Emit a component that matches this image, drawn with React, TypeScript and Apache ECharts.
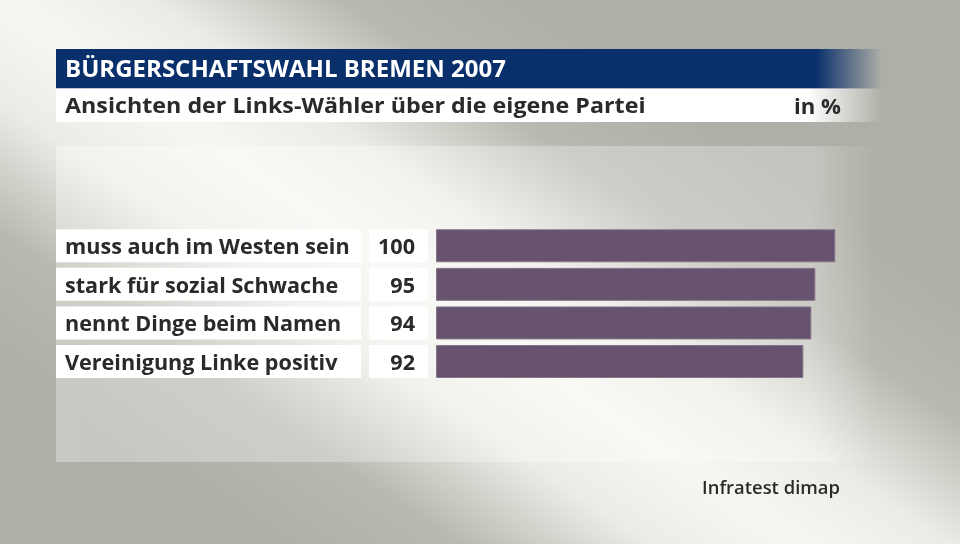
import React, { useEffect, useRef } from "react";
import * as echarts from "echarts";

const titleText = "BÜRGERSCHAFTSWAHL BREMEN 2007";
const subtitleText = "Ansichten der Links-Wähler über die eigene Partei";
const unitText = "in %";
const sourceText = "Infratest dimap";
const categories = [
  "muss auch im Westen sein",
  "stark für sozial Schwache",
  "nennt Dinge beim Namen",
  "Vereinigung Linke positiv",
];
const values = [100, 95, 94, 92];

const FONT = '"Open Sans", "Noto Sans", sans-serif';

function fitScale(text: string, font: string, target: number): number {
  const c = document.createElement("canvas").getContext("2d");
  if (!c) return 1;
  c.font = font;
  const w = c.measureText(text).width;
  return w > 0 ? target / w : 1;
}

export default function App() {
  const ref = useRef<HTMLDivElement>(null);
  useEffect(() => {
    if (!ref.current) return;
    document.body.style.margin = "0";
    const chart = echarts.init(ref.current, null, { renderer: "svg" });

    const titleFont = `bold 23px "Open Sans"`;
    const subFont = `bold 22px "Open Sans"`;
    const srcFont = `600 18px "Open Sans"`;
    const sTitle = fitScale(titleText, titleFont, 441);
    const sSub = fitScale(subtitleText, subFont, 581);
    const sUnit = fitScale(unitText, subFont, 47);
    const sSrc = fitScale(sourceText, srcFont, 138);

    const bg = new echarts.graphic.LinearGradient(
      231, 520, 569, 24,
      [
        { offset: 0, color: "#afafa7" },
        { offset: 0.18, color: "#b9b9b1" },
        { offset: 0.36, color: "#ecece7" },
        { offset: 0.5, color: "#f6f6f2" },
        { offset: 0.64, color: "#ecece7" },
        { offset: 0.82, color: "#b9b9b1" },
        { offset: 1, color: "#afafa7" },
      ],
      true
    );

    const option: any = {
      animation: false,
      grid: { left: 436, right: 124.7, top: 226.5, height: 154.3 },
      xAxis: { type: "value", min: 0, max: 100, show: false },
      yAxis: {
        type: "category",
        inverse: true,
        data: categories,
        axisLine: { show: false },
        axisTick: { show: false },
        splitLine: { show: false },
        axisLabel: {
          margin: 8,
          formatter: (name: string, idx: number) =>
            `{n|${name}}{g|}{v|${values[idx]}}`,
          rich: {
            n: {
              width: 296,
              height: 33,
              lineHeight: 33,
              padding: [0, 0, 0, 9],
              backgroundColor: "#ffffff",
              fontFamily: FONT,
              fontSize: 21.6,
              fontWeight: "bold",
              color: "#2a2a2a",
              align: "left",
            },
            g: { width: 8, height: 33 },
            v: {
              width: 46,
              height: 33,
              lineHeight: 33,
              padding: [0, 13, 0, 0],
              backgroundColor: "#ffffff",
              fontFamily: FONT,
              fontSize: 21.6,
              fontWeight: "bold",
              color: "#2a2a2a",
              align: "right",
            },
          },
        },
      },
      series: [
        {
          type: "bar",
          data: values,
          barWidth: 33,
          itemStyle: { color: "#67536f", borderColor: "#857589", borderWidth: 1 },
          z: 5,
        },
      ],
      graphic: [
        {
          type: "rect",
          z: -10,
          silent: true,
          shape: { x: 0, y: 0, width: 960, height: 544 },
          style: { fill: bg },
        },
        {
          type: "rect",
          z: -9,
          silent: true,
          shape: { x: 56, y: 146, width: 820, height: 316 },
          style: {
            fill: new echarts.graphic.LinearGradient(0, 0, 1, 0, [
              { offset: 0, color: "rgba(255,255,255,0.32)" },
              { offset: 0.92, color: "rgba(255,255,255,0.28)" },
              { offset: 1, color: "rgba(255,255,255,0)" },
            ]),
          },
        },
        {
          type: "rect",
          z: -8,
          silent: true,
          shape: { x: 56, y: 49, width: 826, height: 39.5 },
          style: {
            fill: new echarts.graphic.LinearGradient(0, 0, 1, 0, [
              { offset: 0, color: "#0a306c" },
              { offset: 0.92, color: "#0a306c" },
              { offset: 1, color: "rgba(10,48,108,0)" },
            ]),
          },
        },
        {
          type: "rect",
          z: -8,
          silent: true,
          shape: { x: 56, y: 88.5, width: 826, height: 33.5 },
          style: {
            fill: new echarts.graphic.LinearGradient(0, 0, 1, 0, [
              { offset: 0, color: "#ffffff" },
              { offset: 0.91, color: "#ffffff" },
              { offset: 1, color: "rgba(255,255,255,0)" },
            ]),
          },
        },
        {
          type: "text",
          x: 65,
          y: 68,
          scaleX: sTitle,
          z: 10,
          style: {
            text: titleText,
            font: titleFont,
            fill: "#ffffff",
            textAlign: "left",
            textVerticalAlign: "middle",
          },
        },
        {
          type: "text",
          x: 65,
          y: 105,
          scaleX: sSub,
          z: 10,
          style: {
            text: subtitleText,
            font: subFont,
            fill: "#2a2a2a",
            textAlign: "left",
            textVerticalAlign: "middle",
          },
        },
        {
          type: "text",
          x: 841,
          y: 105,
          scaleX: sUnit,
          z: 10,
          style: {
            text: unitText,
            font: subFont,
            fill: "#2a2a2a",
            textAlign: "right",
            textVerticalAlign: "middle",
          },
        },
        {
          type: "text",
          x: 840,
          y: 487,
          scaleX: sSrc,
          z: 10,
          style: {
            text: sourceText,
            font: srcFont,
            fill: "#2a2a2a",
            textAlign: "right",
            textVerticalAlign: "middle",
          },
        },
      ],
    };
    chart.setOption(option);
    return () => chart.dispose();
  }, []);
  return (
    <div
      ref={ref}
      style={{ position: "fixed", left: 0, top: 0, width: 960, height: 544 }}
    />
  );
}
